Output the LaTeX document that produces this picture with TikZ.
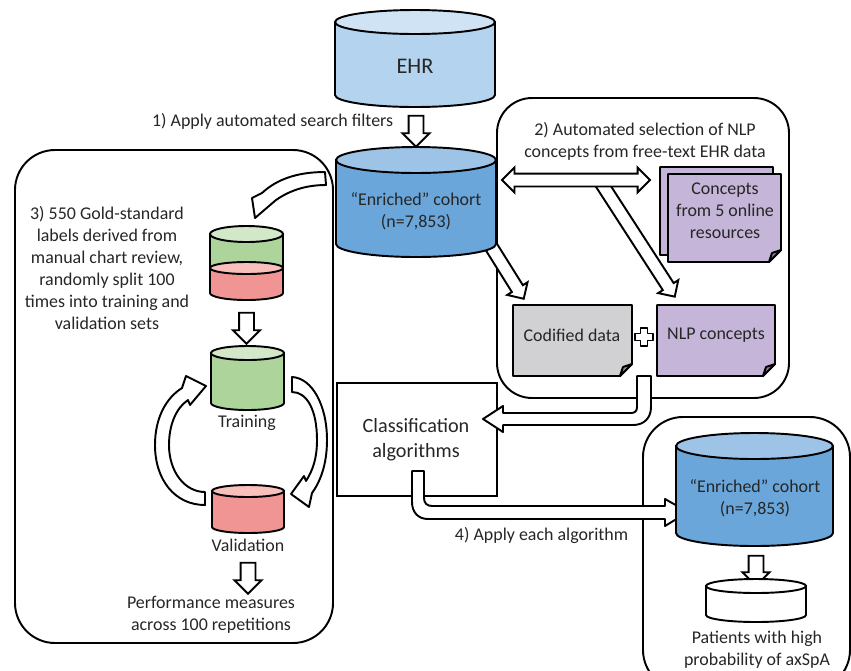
\documentclass[tikz,border=0pt]{standalone}
\usepackage{fontspec}
\setmainfont{Carlito}
\usetikzlibrary{shapes.arrows}

\definecolor{ehrbody}{HTML}{B4D3EE}
\definecolor{ehrtop}{HTML}{D0E3F5}
\definecolor{cohbody}{HTML}{6AA6DA}
\definecolor{cohtop}{HTML}{9DC3E6}
\definecolor{greenbody}{HTML}{ADD59B}
\definecolor{greentop}{HTML}{D2E8C8}
\definecolor{redbody}{HTML}{F09594}
\definecolor{redtop}{HTML}{F8BFBD}
\definecolor{conceptfill}{HTML}{C5B5D9}
\definecolor{codfill}{HTML}{D1D1D3}
\definecolor{txt}{HTML}{262626}

\tikzset{
  panel/.style={line width=1.1pt, rounded corners=8mm},
  blk/.style={draw, fill=white, line width=1.1pt, line join=round},
  downarrow/.style={single arrow, draw, fill=white, line width=1.1pt, rotate=-90,
    minimum height=6.2mm, inner xsep=0pt, inner ysep=1.3mm,
    single arrow head extend=1.2mm, single arrow tip angle=90},
  slantarrow/.style={single arrow, draw, fill=white, line width=1.1pt,
    inner xsep=0pt, inner ysep=1.1mm,
    single arrow head extend=1.1mm, single arrow tip angle=90},
  lbl/.style={align=center, text=txt, font=\fontsize{10.2}{12.5}\selectfont},
  doc/.style={draw, line width=1.1pt, line join=round}
}

\begin{document}
\begin{tikzpicture}[x=0.2mm, y=-0.2mm, line width=1.1pt]

\useasboundingbox (0,0) rectangle (851,670);
\clip (0,0) rectangle (851,670);

% panels
\draw[panel] (15,150) rectangle (333,643);
\draw[panel, rounded corners=7mm] (497,98) rectangle (789,398);
\draw[panel] (643,417) rectangle (850,690);
\draw (337,383) rectangle (497,496);

% arrows that run under other shapes
\node[slantarrow, rotate=-57.1, minimum height=27.6mm] (nlparrow) at (635.5,236) {};
\node[slantarrow, rotate=-58, minimum height=15.1mm] (codarrow) at (502,264) {};
\node[double arrow, draw, fill=white, line width=1.1pt, minimum height=29.6mm,
      inner xsep=0pt, inner ysep=1.1mm, double arrow head extend=1.2mm,
      double arrow tip angle=90] (selectarrow) at (576,180) {};

% EHR
\filldraw[fill=ehrbody] (335,22) -- (335,95) arc[start angle=180, end angle=0, x radius=80, y radius=12] -- (495,22) -- cycle;
\filldraw[fill=ehrtop] (415,22) ellipse[x radius=80, y radius=12];
\node[lbl, font=\fontsize{12.7}{15}\selectfont] (ehr) at (415,66) {EHR};

\node[downarrow] (filterarrow) at (416,127.5) {};
\node[lbl, anchor=east] (filters) at (400,121) {1) Apply automated search filters};

% enriched cohort
\filldraw[fill=cohbody] (336,160) -- (336,244) arc[start angle=180, end angle=0, x radius=80, y radius=13] -- (496,160) -- cycle;
\filldraw[fill=cohtop] (416,160) ellipse[x radius=80, y radius=13];
\node[lbl] (cohort) at (416,211) {“Enriched” cohort\\(n=7,853)};

% concept documents
\filldraw[doc, fill=conceptfill] (660,167) -- (773,167) -- (773,243) -- (761,255) -- (660,255) -- cycle;
\filldraw[doc, fill=conceptfill] (668,174) -- (781,174) -- (781,250) -- (769,262) -- (668,262) -- cycle;
\filldraw[doc, fill=conceptfill!70!black] (781,250) -- (772,253) -- (769,262) -- cycle;
\node[lbl] (resources) at (725,211) {Concepts\\from 5 online\\resources};

\filldraw[doc, fill=codfill] (513,305) -- (632,305) -- (632,364) -- (620,376) -- (513,376) -- cycle;
\filldraw[doc, fill=codfill!70!black] (632,364) -- (623,367) -- (620,376) -- cycle;
\node[lbl] (codified) at (572,335) {Codified data};

\filldraw[doc, fill=conceptfill] (657,305) -- (775,305) -- (775,364) -- (763,376) -- (657,376) -- cycle;
\filldraw[doc, fill=conceptfill!70!black] (775,364) -- (766,367) -- (763,376) -- cycle;
\node[lbl] (nlpconcepts) at (716,335) {NLP concepts};

% plus
\filldraw[blk, line width=0.9pt] (640.5,328) -- (647.5,328) -- (647.5,333.5) -- (653,333.5) -- (653,340.5) -- (647.5,340.5)
  -- (647.5,346) -- (640.5,346) -- (640.5,340.5) -- (635,340.5) -- (635,333.5) -- (640.5,333.5) -- cycle;

\node[lbl] (nlptitle) at (645,141) {2) Automated selection of NLP\\concepts from free-text EHR data};

% cohort to gold standard
\draw[blk] (325,172) .. controls (296,172) and (276,180) .. (262,193) -- (252,198) -- (255,218)
  -- (276,200) .. controls (289,191) and (305,185) .. (326,185) -- cycle;

% gold standard split
\filldraw[fill=greenbody] (210,234) -- (210,268) arc[start angle=180, end angle=0, x radius=36.5, y radius=6] -- (283,234) -- cycle;
\filldraw[fill=greentop] (246.5,234) ellipse[x radius=36.5, y radius=8];
\filldraw[fill=redbody] (210,268) -- (210,293) arc[start angle=180, end angle=0, x radius=36.5, y radius=7] -- (283,268) -- cycle;
\filldraw[fill=redtop] (246.5,268) ellipse[x radius=36.5, y radius=6];
\node[lbl] (goldtext) at (107,268) {3) 550 Gold-standard\\labels derived from\\manual chart review,\\randomly split 100\\times into training and\\validation sets};

\node[downarrow] (goldarrow) at (246.5,324.5) {};

% training
\filldraw[fill=greenbody] (211,353) -- (211,403) arc[start angle=180, end angle=0, x radius=36.5, y radius=7] -- (284,353) -- cycle;
\filldraw[fill=greentop] (247.5,353) ellipse[x radius=36.5, y radius=7];
\node[lbl] (training) at (247,423) {Training};

% validation
\filldraw[fill=redbody] (212,491) -- (212,527) arc[start angle=180, end angle=0, x radius=36, y radius=6] -- (284,491) -- cycle;
\filldraw[fill=redtop] (248,491) ellipse[x radius=36, y radius=6];
\node[lbl] (validation) at (248,545) {Validation};

% repeat cycle
\draw[blk] (205,505) .. controls (175,505) and (155,480) .. (155,445) .. controls (155,418) and (166,398) .. (182,388)
  -- (186,376) -- (206,386) -- (190,405) -- (188,400)
  .. controls (176,408) and (169,425) .. (169,445) .. controls (169,472) and (185,492) .. (205,492) -- cycle;
\draw[blk] (292,377) .. controls (312,378) and (327,405) .. (327,440) .. controls (327,465) and (320,482) .. (312,493)
  -- (309,507) -- (291,494) -- (304,476) -- (306,481)
  .. controls (313,470) and (317,458) .. (317,440) .. controls (317,410) and (307,392) .. (292,392) -- cycle;

\node[downarrow] (validarrow) at (248,574.5) {};
\node[lbl] (performance) at (211,615) {Performance measures\\across 100 repetitions};

\node[lbl, font=\fontsize{11.5}{14}\selectfont] (classifier) at (416,440) {Classification\\algorithms};

% features into the classifier
\draw[blk] (637,376) -- (651,376) -- (651,407) .. controls (651,418) and (644,425) .. (633,425) -- (503,425) -- (503,432)
  -- (483,419) -- (503,406) -- (503,413) -- (631,413) .. controls (635,413) and (637,411) .. (637,407) -- cycle;

% classifier onto the cohort
\draw[blk] (412,471) -- (424,471) -- (424,498) .. controls (424,503) and (427,506) .. (432,506) -- (665,506) -- (665,499)
  -- (688,512) -- (665,526) -- (665,519) -- (428,519) .. controls (418,519) and (412,512) .. (412,502) -- cycle;
\node[lbl, anchor=east] (applyall) at (635,535) {4) Apply each algorithm};

% enriched cohort, second copy
\filldraw[fill=cohbody] (676,446) -- (676,533) arc[start angle=180, end angle=0, x radius=78.5, y radius=13] -- (833,446) -- cycle;
\filldraw[fill=cohtop] (754.5,446) ellipse[x radius=78.5, y radius=13];
\node[lbl] (cohort2) at (755,498) {“Enriched” cohort\\(n=7,853)};

\node[downarrow, minimum height=6mm] (patientarrow) at (756,567) {};

\filldraw[fill=white] (706,586) -- (706,615) arc[start angle=180, end angle=0, x radius=50, y radius=7] -- (806,586) -- cycle;
\filldraw[fill=white] (756,586) ellipse[x radius=50, y radius=7];
\node[lbl] (patients) at (757,650) {Patients with high\\probability of axSpA};

\end{tikzpicture}
\end{document}
